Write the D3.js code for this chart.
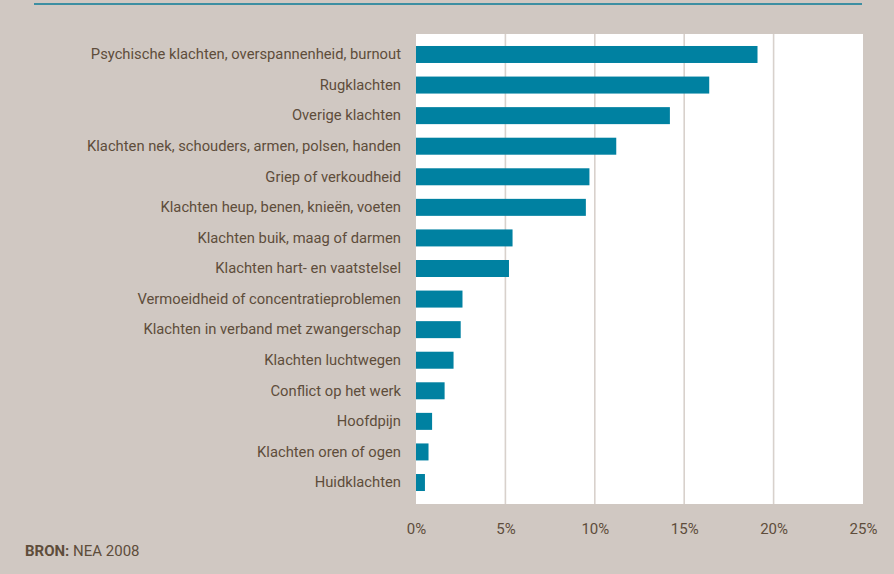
<!DOCTYPE html>
<html>
<head>
<meta charset="utf-8">
<script src="https://cdn.jsdelivr.net/npm/d3@7"></script>
<style>
  html, body { margin: 0; padding: 0; background: #d0c8c2; }
  svg { display: block; }
  text { font-family: Roboto, "Liberation Sans", sans-serif; fill: #5e4d3b; }
</style>
</head>
<body>
<svg id="chart" width="894" height="574"></svg>
<script>
// Redenen van ziekteverzuim (percentage)
const categories = [
  "Psychische klachten, overspannenheid, burnout",
  "Rugklachten",
  "Overige klachten",
  "Klachten nek, schouders, armen, polsen, handen",
  "Griep of verkoudheid",
  "Klachten heup, benen, knieën, voeten",
  "Klachten buik, maag of darmen",
  "Klachten hart- en vaatstelsel",
  "Vermoeidheid of concentratieproblemen",
  "Klachten in verband met zwangerschap",
  "Klachten luchtwegen",
  "Conflict op het werk",
  "Hoofdpijn",
  "Klachten oren of ogen",
  "Huidklachten"
];
const values = [19.1, 16.4, 14.2, 11.2, 9.7, 9.5, 5.4, 5.2, 2.6, 2.5, 2.1, 1.6, 0.9, 0.7, 0.5];
const tickValues = [0, 5, 10, 15, 20, 25];
const source = { label: "BRON:", text: " NEA 2008" };

const svg = d3.select("#chart");

const plot = { left: 416, right: 863, top: 34, bottom: 504 };

const x = d3.scaleLinear().domain([0, 25]).range([plot.left, plot.right]);
const y = d3.scaleBand()
  .domain(categories)
  .range([39.2, 497.8])
  .paddingInner(0.444)
  .paddingOuter(0.222);

// bovenste lijn
svg.append("line")
  .attr("x1", 34).attr("x2", 862)
  .attr("y1", 4).attr("y2", 4)
  .attr("stroke", "#3d8fa2").attr("stroke-width", 2);

// witte plotvlak
svg.append("rect")
  .attr("x", plot.left).attr("y", plot.top)
  .attr("width", plot.right - plot.left)
  .attr("height", plot.bottom - plot.top)
  .attr("fill", "#ffffff");

// rasterlijnen
svg.append("g")
  .selectAll("line")
  .data(tickValues.filter(d => d > 0 && d < 25))
  .join("line")
  .attr("x1", d => x(d)).attr("x2", d => x(d))
  .attr("y1", plot.top).attr("y2", plot.bottom)
  .attr("stroke", "#d8d1cc").attr("stroke-width", 1.6);

// balken
svg.append("g")
  .selectAll("rect")
  .data(values)
  .join("rect")
  .attr("x", x(0))
  .attr("y", (d, i) => y(categories[i]))
  .attr("width", d => x(d) - x(0))
  .attr("height", y.bandwidth())
  .attr("fill", "#0081a1");

// categorie-labels
const yAxis = d3.axisLeft(y).tickSize(0).tickPadding(15);
const gy = svg.append("g").attr("transform", `translate(${plot.left},0)`).call(yAxis);
gy.select(".domain").remove();
gy.selectAll("text")
  .style("font-family", "Roboto, 'Liberation Sans', sans-serif")
  .style("font-size", "14.75px")
  .attr("fill", "#5e4d3b");

// x-as
const xAxis = d3.axisBottom(x).tickValues(tickValues).tickFormat(d => d + "%").tickSize(0).tickPadding(0);
const gx = svg.append("g").attr("transform", `translate(0,${plot.bottom + 19})`).call(xAxis);
gx.select(".domain").remove();
gx.selectAll("text")
  .style("font-family", "Roboto, 'Liberation Sans', sans-serif")
  .style("font-size", "15px")
  .attr("fill", "#5e4d3b");

// bron
const src = svg.append("text")
  .attr("x", 25).attr("y", 556)
  .style("font-size", "15px");
src.append("tspan").attr("font-weight", "bold").text(source.label);
src.append("tspan").text(source.text);
</script>
</body>
</html>
